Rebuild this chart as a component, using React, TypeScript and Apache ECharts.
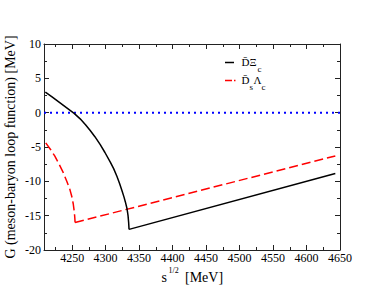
import React, { useEffect, useRef } from "react";
import * as echarts from "echarts";

// Axis ranges
const xMin = 4208;
const xMax = 4650;
const xSplit = 9;
const yMin = -20;
const yMax = 10;
const yInterval = 5;

// D-bar Xi_c channel (black solid): below threshold (curved) and above threshold (straight)
const blackCurveX = [4210, 4220, 4231, 4242, 4253, 4262, 4270, 4277, 4284, 4292, 4299, 4307, 4312, 4317, 4321, 4324.6, 4327.5, 4329.5, 4332, 4333.5, 4334.4, 4335];
const blackCurveY = [3.0, 2.3, 1.5, 0.7, -0.1, -0.9, -1.75, -2.6, -3.5, -4.65, -5.8, -7.2, -8.15, -9.3, -10.35, -11.4, -12.3, -13.0, -14.0, -15.0, -16.0, -17.0];
const blackLineX = [4335, 4643];
const blackLineY = [-17.0, -8.85];

// D_s-bar Lambda_c channel (red dashed): below threshold (curved) and above threshold (straight)
const redCurveX = [4210.6, 4218, 4224, 4230, 4236.6, 4242, 4246.7, 4249.5, 4251.7, 4253.2, 4254.0, 4254.4];
const redCurveY = [-4.4, -5.4, -6.3, -7.4, -8.7, -10.0, -11.2, -12.2, -13.3, -14.4, -15.3, -16.0];
const redLineX = [4254.4, 4643];
const redLineY = [-16.0, -6.3];

// Zero reference (blue dotted)
const zeroX = [4208, 4650];
const zeroY = [0, 0];

const serif = "'Liberation Serif', 'DejaVu Serif', serif";

const pairs = (xs: number[], ys: number[]) => xs.map((x, i) => [x, ys[i]]);

export default function App() {
  const ref = useRef<HTMLDivElement>(null);
  useEffect(() => {
    if (!ref.current) return;
    const chart = echarts.init(ref.current, undefined, { renderer: "svg" });
    const axisCommon = {
      axisLine: { show: true, onZero: false, lineStyle: { color: "#222", width: 1 } },
      axisTick: { show: true, inside: true, length: 5, lineStyle: { color: "#222", width: 1 } },
      minorTick: { show: true, splitNumber: 2, length: 3, lineStyle: { color: "#222", width: 1 } },
      splitLine: { show: false },
      minorSplitLine: { show: false },
    };
    const labelStyle = {
      color: "#000",
      fontSize: 12,
      fontFamily: serif,
      formatter: (v: number) => String(v),
    };
    const black = { color: "#000", width: 1.5 };
    const red = { color: "#ff0000", width: 1.5, type: [9, 4] };
    const lineSeries = (xs: number[], ys: number[], style: object, z: number) => ({
      type: "line",
      data: pairs(xs, ys),
      symbol: "none",
      lineStyle: style,
      z,
    });
    chart.setOption({
      animation: false,
      backgroundColor: "#fff",
      grid: { left: 44, right: 42, top: 44, bottom: 45, containLabel: false },
      xAxis: [
        {
          type: "value",
          min: xMin,
          max: xMax,
          splitNumber: xSplit,
          position: "bottom",
          ...axisCommon,
          axisLabel: { ...labelStyle, margin: 2, showMinLabel: false },
        },
        {
          type: "value",
          min: xMin,
          max: xMax,
          splitNumber: xSplit,
          position: "top",
          ...axisCommon,
          axisLabel: { show: false },
        },
      ],
      yAxis: [
        {
          type: "value",
          min: yMin,
          max: yMax,
          interval: yInterval,
          position: "left",
          ...axisCommon,
          axisLabel: { ...labelStyle, margin: 3 },
        },
        {
          type: "value",
          min: yMin,
          max: yMax,
          interval: yInterval,
          position: "right",
          ...axisCommon,
          axisLabel: { show: false },
        },
      ],
      series: [
        lineSeries(zeroX, zeroY, { color: "#0000ff", width: 2, type: [2, 4] }, 1),
        lineSeries(redCurveX, redCurveY, red, 2),
        lineSeries(redLineX, redLineY, red, 2),
        lineSeries(blackCurveX, blackCurveY, black, 3),
        lineSeries(blackLineX, blackLineY, black, 3),
      ],
      graphic: [
        {
          type: "text",
          x: 10,
          y: 147,
          rotation: Math.PI / 2,
          style: {
            text: "G (meson-baryon loop function) [MeV]",
            fontSize: 14,
            fontFamily: serif,
            fill: "#000",
            align: "center",
            verticalAlign: "middle",
          },
        },
        {
          type: "text",
          x: 167,
          y: 277,
          style: { text: "s", fontSize: 14, fontFamily: serif, fill: "#000", align: "right", verticalAlign: "middle" },
        },
        {
          type: "text",
          x: 168.5,
          y: 270,
          style: { text: "1/2", fontSize: 8, fontFamily: serif, fill: "#000", align: "left", verticalAlign: "middle" },
        },
        {
          type: "text",
          x: 185,
          y: 277,
          style: { text: "[MeV]", fontSize: 14, fontFamily: serif, fill: "#000", align: "left", verticalAlign: "middle" },
        },
        // legend
        {
          type: "line",
          shape: { x1: 225, y1: 62.5, x2: 234, y2: 62.5 },
          style: { stroke: "#000", lineWidth: 1.5 },
        },
        {
          type: "text",
          x: 241.5,
          y: 62,
          style: { text: "D\u0304\u039E", fontSize: 11, fontFamily: serif, fill: "#000", align: "left", verticalAlign: "middle" },
        },
        {
          type: "text",
          x: 257.5,
          y: 69,
          style: { text: "c", fontSize: 9, fontFamily: serif, fill: "#000", align: "left", verticalAlign: "middle" },
        },
        {
          type: "line",
          shape: { x1: 225, y1: 80.5, x2: 235.5, y2: 80.5 },
          style: { stroke: "#ff0000", lineWidth: 1.5, lineDash: [7, 2] },
        },
        {
          type: "text",
          x: 241.5,
          y: 80,
          style: { text: "D\u0304", fontSize: 11, fontFamily: serif, fill: "#000", align: "left", verticalAlign: "middle" },
        },
        {
          type: "text",
          x: 249.5,
          y: 87,
          style: { text: "s", fontSize: 9, fontFamily: serif, fill: "#000", align: "left", verticalAlign: "middle" },
        },
        {
          type: "text",
          x: 253.5,
          y: 80,
          style: { text: "\u039B", fontSize: 11, fontFamily: serif, fill: "#000", align: "left", verticalAlign: "middle" },
        },
        {
          type: "text",
          x: 261.5,
          y: 87,
          style: { text: "c", fontSize: 9, fontFamily: serif, fill: "#000", align: "left", verticalAlign: "middle" },
        },
      ],
    });
    return () => chart.dispose();
  }, []);
  return (
    <div
      ref={ref}
      style={{ position: "fixed", left: 0, top: 0, width: 382, height: 295 }}
    />
  );
}
